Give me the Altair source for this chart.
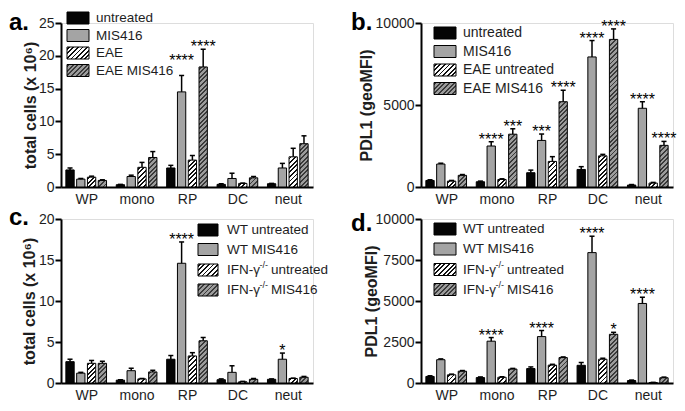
import json
import altair as alt
import pandas as pd

FONT = "Liberation Sans, Arial, Helvetica, sans-serif"

cats = ["WP", "mono", "RP", "DC", "neut"]

# ---------------- panel a : total cells (x 10^6)
a_series = ["untreated", "MIS416", "EAE", "EAE MIS416"]
a_vals = [[2.6, 1.2, 1.5, 1.0],
          [0.35, 1.6, 3.0, 4.5],
          [2.9, 14.5, 4.1, 18.3],
          [0.4, 1.3, 0.55, 1.4],
          [0.5, 2.9, 4.6, 6.6]]
a_errs = [[0.3, 0.1, 0.15, 0.1],
          [0.05, 0.2, 0.75, 0.9],
          [0.4, 2.5, 0.7, 2.7],
          [0.1, 0.8, 0.05, 0.2],
          [0.05, 0.7, 1.3, 1.2]]
a_stars = [["", "", "", ""],
           ["", "", "", ""],
           ["", "****", "", "****"],
           ["", "", "", ""],
           ["", "", "", ""]]

# ---------------- panel b : PDL1 (geoMFI)
b_series = ["untreated", "MIS416", "EAE untreated", "EAE MIS416"]
b_vals = [[400, 1400, 360, 710],
          [320, 2500, 460, 3220],
          [870, 2840, 1560, 5200],
          [1070, 7930, 1900, 9000],
          [120, 4800, 240, 2540]]
b_errs = [[40, 50, 40, 50],
          [40, 260, 40, 330],
          [160, 390, 290, 700],
          [170, 1000, 90, 640],
          [30, 400, 40, 240]]
b_stars = [["", "", "", ""],
           ["", "****", "", "***"],
           ["", "***", "", "****"],
           ["", "****", "", "****"],
           ["", "****", "", "****"]]

# ---------------- panel c : total cells (x 10^6), WT vs IFN-g-/-
c_series = ["WT untreated", "WT MIS416", "IFN-γ-/- untreated", "IFN-γ-/- MIS416"]
c_vals = [[2.6, 1.2, 2.4, 2.4],
          [0.35, 1.5, 0.5, 1.35],
          [2.9, 14.6, 3.3, 5.15],
          [0.4, 1.3, 0.15, 0.45],
          [0.45, 2.9, 0.55, 0.7]]
c_errs = [[0.3, 0.1, 0.35, 0.25],
          [0.05, 0.3, 0.05, 0.2],
          [0.45, 2.6, 0.4, 0.4],
          [0.1, 0.8, 0.05, 0.1],
          [0.05, 0.75, 0.05, 0.1]]
c_stars = [["", "", "", ""],
           ["", "", "", ""],
           ["", "****", "", ""],
           ["", "", "", ""],
           ["", "*", "", ""]]

# ---------------- panel d : PDL1 (geoMFI), WT vs IFN-g-/-
d_series = c_series
d_vals = [[400, 1420, 500, 720],
          [330, 2550, 350, 850],
          [880, 2830, 1090, 1550],
          [1080, 7950, 1450, 2970],
          [150, 4850, 30, 320]]
d_errs = [[40, 50, 40, 40],
          [40, 220, 30, 40],
          [100, 370, 50, 40],
          [170, 1000, 60, 120],
          [30, 380, 10, 40]]
d_stars = [["", "", "", ""],
           ["", "****", "", ""],
           ["", "****", "", ""],
           ["", "****", "", "*"],
           ["", "****", "", ""]]

# ---------------- styling
W, H = 252, 164
PX = W / 5.0
STEP, BW, CAP = 0.214, 0.165, 0.05
BLACK = "#050505"
GRAY = "#a4a4a4"
HW_BASE, HW_STRIPE = "#ffffff", "#111111"
HG_BASE, HG_STRIPE = "#9c9c9c", "#3a3a3a"
TXT = "#1e1e1e"


def hatch(w, h, base, stripe, period=4.6, frac=0.42):
    L = max(w + h, 0.5)
    den = w * w + h * h
    if den <= 0:
        den = 1.0
    s = L / den
    stops = [{"offset": 0, "color": base}]
    k = 0
    phase = 1.2
    while phase + k * period < L:
        a = (phase + k * period) / L
        b = min((phase + k * period + frac * period) / L, 1.0)
        stops += [{"offset": round(a, 5), "color": base},
                  {"offset": round(a, 5), "color": stripe},
                  {"offset": round(b, 5), "color": stripe},
                  {"offset": round(b, 5), "color": base}]
        k += 1
    stops.append({"offset": 1, "color": base if stops[-1]["color"] == base else stripe})
    return {"gradient": "linear", "x1": 0, "y1": 0,
            "x2": round(s * w, 6), "y2": round(s * h, 6), "stops": stops}


def make_panel(series, vals, errs, stars, ymax, yticks, ytitle, title_x,
               letter, letter_xy, legend_parts, leg_sw, leg_tx, leg_rows,
               leg_font, star_lift=()):
    rows = []
    for gi, c in enumerate(cats):
        for si, s in enumerate(series):
            rows.append({"cat": c, "gi": gi, "si": si, "series": s,
                         "v": vals[gi][si], "e": errs[gi][si],
                         "star": stars[gi][si]})
    df = pd.DataFrame(rows)
    base = alt.Chart(df).transform_calculate(
        xc=f"datum.gi + (datum.si - 1.5) * {STEP}"
    ).transform_calculate(
        x0=f"datum.xc - {BW / 2}", x1=f"datum.xc + {BW / 2}",
        cl=f"datum.xc - {CAP}", cr=f"datum.xc + {CAP}",
        top="datum.v + datum.e", zero="0"
    )
    xs = alt.Scale(domain=[-0.5, 4.5], nice=False, zero=False)
    xaxis = alt.Axis(values=[0, 1, 2, 3, 4],
                     labelExpr=json.dumps(cats) + "[datum.value]",
                     ticks=False, domainWidth=2, domainColor="black",
                     labelFontSize=14, labelPadding=5, labelFont=FONT,
                     labelColor=TXT, labelFlush=False, labelOverlap=False,
                     labelAngle=0, grid=False, title=None)
    ys = alt.Scale(domain=[0, ymax], nice=False, zero=True)
    yaxis = alt.Axis(values=yticks, format="d", tickSize=6, tickWidth=2,
                     tickColor="black", domainWidth=2, domainColor="black",
                     labelFontSize=14, labelPadding=1, labelFont=FONT,
                     labelColor=TXT, grid=False, title=ytitle,
                     titleFont=FONT, titleFontSize=16, titleFontWeight="bold",
                     titleColor=TXT, titleX=title_x, titleY=H / 2,
                     titleAngle=270, titleAlign="center",
                     titleBaseline="middle")

    def X(f):
        return alt.X(f"{f}:Q", scale=xs, axis=xaxis)

    def Y(f):
        return alt.Y(f"{f}:Q", scale=ys, axis=yaxis)

    layers = []
    layers.append(base.transform_filter("datum.si == 0").mark_rect(
        fill=BLACK, stroke="black", strokeWidth=1).encode(
        x=X("x0"), x2="x1:Q", y=Y("v"), y2="zero:Q"))
    layers.append(base.transform_filter("datum.si == 1").mark_rect(
        fill=GRAY, stroke="black", strokeWidth=1).encode(
        x=X("x0"), x2="x1:Q", y=Y("v"), y2="zero:Q"))
    wpx = BW * PX
    for gi in range(len(cats)):
        for si, (bc, sc) in ((2, (HW_BASE, HW_STRIPE)), (3, (HG_BASE, HG_STRIPE))):
            hpx = vals[gi][si] / ymax * H
            layers.append(base.transform_filter(
                f"datum.gi == {gi} && datum.si == {si}").mark_rect(
                fill=hatch(wpx, hpx, bc, sc), stroke="black",
                strokeWidth=1).encode(
                x=X("x0"), x2="x1:Q", y=Y("v"), y2="zero:Q"))
    layers.append(base.mark_rule(color="black", strokeWidth=1.5).encode(
        x=X("xc"), y=Y("v"), y2="top:Q"))
    layers.append(base.mark_rule(color="black", strokeWidth=1.5).encode(
        x=X("cl"), x2="cr:Q", y=Y("top")))

    lift_test = " || ".join(f"(datum.gi == {g} && datum.si == {s})"
                            for g, s, _ in star_lift) or "false"
    layers.append(base.transform_filter(
        f"datum.star != '' && !({lift_test})").mark_text(
        fontSize=16, baseline="alphabetic", dy=3, font=FONT,
        color="black").encode(x=X("xc"), y=Y("top"), text="star:N"))
    for g, s, ddy in star_lift:
        layers.append(base.transform_filter(
            f"datum.gi == {g} && datum.si == {s}").mark_text(
            fontSize=16, baseline="alphabetic", dy=3 + ddy, font=FONT,
            color="black").encode(x=X("xc"), y=Y("top"), text="star:N"))

    # legend
    fills = [BLACK, GRAY,
             hatch(leg_sw[1] - leg_sw[0], 12, HW_BASE, HW_STRIPE),
             hatch(leg_sw[1] - leg_sw[0], 12, HG_BASE, HG_STRIPE)]
    for i, parts in enumerate(legend_parts):
        ry = leg_rows[i]
        ldf = pd.DataFrame({"label": [series[i]]})
        layers.append(alt.Chart(ldf).mark_rect(
            fill=fills[i], stroke="black", strokeWidth=1).encode(
            x=alt.value(leg_sw[0]), x2=alt.value(leg_sw[1]),
            y=alt.value(ry - 6), y2=alt.value(ry + 6)))
        if len(parts) == 1:
            layers.append(alt.Chart(ldf).mark_text(
                align="left", baseline="middle", fontSize=leg_font,
                font=FONT, color=TXT).encode(
                x=alt.value(leg_tx), y=alt.value(ry), text="label:N"))
        else:
            main, sup, rest = parts
            pdf = pd.DataFrame({"a": [main], "b": [sup], "c": [rest]})
            layers.append(alt.Chart(pdf).mark_text(
                align="left", baseline="middle", fontSize=leg_font,
                font=FONT, color=TXT).encode(
                x=alt.value(leg_tx), y=alt.value(ry), text="a:N"))
            layers.append(alt.Chart(pdf).mark_text(
                align="left", baseline="middle", fontSize=9,
                font=FONT, color=TXT).encode(
                x=alt.value(leg_tx + 32.5), y=alt.value(ry - 5), text="b:N"))
            layers.append(alt.Chart(pdf).mark_text(
                align="left", baseline="middle", fontSize=leg_font,
                font=FONT, color=TXT).encode(
                x=alt.value(leg_tx + 44), y=alt.value(ry), text="c:N"))

    layers.append(alt.Chart(pd.DataFrame({"t": [letter]})).mark_text(
        fontSize=24, fontWeight="bold", align="left", baseline="alphabetic",
        font=FONT, color="black").encode(
        x=alt.value(letter_xy[0]), y=alt.value(letter_xy[1]), text="t:N"))

    return alt.layer(*layers).properties(width=W, height=H)


ab_parts = [[s] for s in a_series]
b_parts = [[s] for s in b_series]
cd_parts = [["WT untreated"], ["WT MIS416"],
            ["IFN-γ", "-/-", "untreated"], ["IFN-γ", "-/-", "MIS416"]]

pa = make_panel(a_series, a_vals, a_errs, a_stars, 25, [0, 5, 10, 15, 20, 25],
                "total cells (x 10⁶)", -31, "a.", (-52, 7), ab_parts,
                (6, 28), 35, [-5, 12.5, 30, 47.5], 13.5,
                star_lift=[(2, 1, -12)])
pb = make_panel(b_series, b_vals, b_errs, b_stars, 10000, [0, 5000, 10000],
                "PDL1 (geoMFI)", -55, "b.", (-70, 7), b_parts,
                (13, 35), 42, [10, 28.5, 47, 65.5], 14)
pc = make_panel(c_series, c_vals, c_errs, c_stars, 20, [0, 5, 10, 15, 20],
                "total cells (x 10⁶)", -32, "c.", (-52, 6), cd_parts,
                (137, 157), 166, [11, 30.5, 51, 71], 13.5)
pdd = make_panel(d_series, d_vals, d_errs, d_stars, 10000,
                 [0, 2500, 5000, 7500, 10000],
                 "PDL1 (geoMFI)", -50, "d.", (-70, 12), cd_parts,
                 (13, 35), 42, [10, 30, 50.5, 70.5], 13.5)

chart = alt.concat(pa, pb, pc, pdd, columns=2,
                   spacing={"row": 32, "column": 108},
                   bounds="flush").properties(
    padding={"top": 2, "left": 0, "right": 0, "bottom": 0}
).configure_view(stroke=None).configure(font=FONT)

chart.save("out.html", embed_options={"renderer": "svg", "actions": False})
